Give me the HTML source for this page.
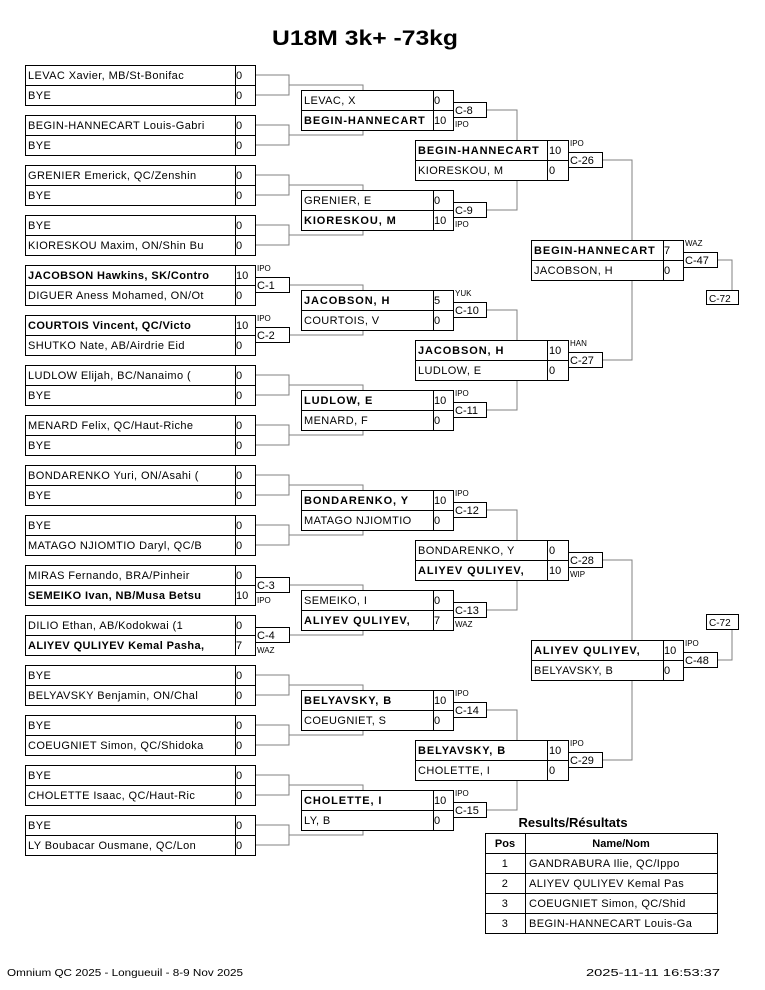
<!DOCTYPE html>
<html><head><meta charset="utf-8"><style>
html,body{margin:0;padding:0;background:#fff}
svg{display:block}
text{font-family:"Liberation Sans",Arial,sans-serif;fill:#000}
.n{font-size:11px;letter-spacing:0.4px}
.b{font-size:11px;font-weight:bold;letter-spacing:0.9px}
.s{font-size:11px}
.l{font-size:8px}
.c{stroke:#808080;fill:none;stroke-width:1}
.bx{stroke:#000;fill:none;stroke-width:1}
</style></head><body>
<svg width="765" height="990" viewBox="0 0 765 990" xmlns="http://www.w3.org/2000/svg">
<text x="365" y="45" text-anchor="middle" style="font-size:21px;font-weight:bold" textLength="186" lengthAdjust="spacingAndGlyphs">U18M 3k+ -73kg</text>

<g class="c">
<path d="M255 75H289V95H255M289 85H363V90"/>
<path d="M255 125H289V145H255M289 135H363V130"/>
<path d="M255 175H289V195H255M289 185H363V190"/>
<path d="M255 225H289V245H255M289 235H363V230"/>
<path d="M289 285H363V290"/>
<path d="M289 335H363V330"/>
<path d="M255 375H289V395H255M289 385H363V390"/>
<path d="M255 425H289V445H255M289 435H363V430"/>
<path d="M255 475H289V495H255M289 485H363V490"/>
<path d="M255 525H289V545H255M289 535H363V530"/>
<path d="M289 585H363V590"/>
<path d="M289 635H363V630"/>
<path d="M255 675H289V695H255M289 685H363V690"/>
<path d="M255 725H289V745H255M289 735H363V730"/>
<path d="M255 775H289V795H255M289 785H363V790"/>
<path d="M255 825H289V845H255M289 835H363V830"/>
<path d="M486 110H517V140"/><path d="M486 210H517V180"/>
<path d="M486 310H517V340"/><path d="M486 410H517V380"/>
<path d="M486 510H517V540"/><path d="M486 610H517V580"/>
<path d="M486 710H517V740"/><path d="M486 810H517V780"/>
<path d="M602 160H632V240"/><path d="M602 360H632V280"/>
<path d="M602 560H632V640"/><path d="M602 760H632V680"/>
<path d="M717 260H732V290"/><path d="M717 660H732V629"/>
</g>

<g class="bx">
<path d="M25.5 65.5h230v40h-230zM25.5 85.5h230M235.5 65.5v40"/>
<path d="M25.5 115.5h230v40h-230zM25.5 135.5h230M235.5 115.5v40"/>
<path d="M25.5 165.5h230v40h-230zM25.5 185.5h230M235.5 165.5v40"/>
<path d="M25.5 215.5h230v40h-230zM25.5 235.5h230M235.5 215.5v40"/>
<path d="M25.5 265.5h230v40h-230zM25.5 285.5h230M235.5 265.5v40"/>
<path d="M25.5 315.5h230v40h-230zM25.5 335.5h230M235.5 315.5v40"/>
<path d="M25.5 365.5h230v40h-230zM25.5 385.5h230M235.5 365.5v40"/>
<path d="M25.5 415.5h230v40h-230zM25.5 435.5h230M235.5 415.5v40"/>
<path d="M25.5 465.5h230v40h-230zM25.5 485.5h230M235.5 465.5v40"/>
<path d="M25.5 515.5h230v40h-230zM25.5 535.5h230M235.5 515.5v40"/>
<path d="M25.5 565.5h230v40h-230zM25.5 585.5h230M235.5 565.5v40"/>
<path d="M25.5 615.5h230v40h-230zM25.5 635.5h230M235.5 615.5v40"/>
<path d="M25.5 665.5h230v40h-230zM25.5 685.5h230M235.5 665.5v40"/>
<path d="M25.5 715.5h230v40h-230zM25.5 735.5h230M235.5 715.5v40"/>
<path d="M25.5 765.5h230v40h-230zM25.5 785.5h230M235.5 765.5v40"/>
<path d="M25.5 815.5h230v40h-230zM25.5 835.5h230M235.5 815.5v40"/>
<rect x="255.5" y="277.5" width="34" height="15"/>
<rect x="255.5" y="327.5" width="34" height="15"/>
<rect x="255.5" y="577.5" width="34" height="15"/>
<rect x="255.5" y="627.5" width="34" height="15"/>
<path d="M301.5 90.5h152v40h-152zM301.5 110.5h152M433.5 90.5v40"/>
<path d="M301.5 190.5h152v40h-152zM301.5 210.5h152M433.5 190.5v40"/>
<path d="M301.5 290.5h152v40h-152zM301.5 310.5h152M433.5 290.5v40"/>
<path d="M301.5 390.5h152v40h-152zM301.5 410.5h152M433.5 390.5v40"/>
<path d="M301.5 490.5h152v40h-152zM301.5 510.5h152M433.5 490.5v40"/>
<path d="M301.5 590.5h152v40h-152zM301.5 610.5h152M433.5 590.5v40"/>
<path d="M301.5 690.5h152v40h-152zM301.5 710.5h152M433.5 690.5v40"/>
<path d="M301.5 790.5h152v40h-152zM301.5 810.5h152M433.5 790.5v40"/>
<rect x="453.5" y="102.5" width="33" height="15"/>
<rect x="453.5" y="202.5" width="33" height="15"/>
<rect x="453.5" y="302.5" width="33" height="15"/>
<rect x="453.5" y="402.5" width="33" height="15"/>
<rect x="453.5" y="502.5" width="33" height="15"/>
<rect x="453.5" y="602.5" width="33" height="15"/>
<rect x="453.5" y="702.5" width="33" height="15"/>
<rect x="453.5" y="802.5" width="33" height="15"/>
<path d="M415.5 140.5h153v40h-153zM415.5 160.5h153M547.5 140.5v40"/>
<path d="M415.5 340.5h153v40h-153zM415.5 360.5h153M547.5 340.5v40"/>
<path d="M415.5 540.5h153v40h-153zM415.5 560.5h153M547.5 540.5v40"/>
<path d="M415.5 740.5h153v40h-153zM415.5 760.5h153M547.5 740.5v40"/>
<rect x="568.5" y="152.5" width="34" height="15"/>
<rect x="568.5" y="352.5" width="34" height="15"/>
<rect x="568.5" y="552.5" width="34" height="15"/>
<rect x="568.5" y="752.5" width="34" height="15"/>
<path d="M531.5 240.5h152v40h-152zM531.5 260.5h152M663.5 240.5v40"/>
<path d="M531.5 640.5h152v40h-152zM531.5 660.5h152M663.5 640.5v40"/>
<rect x="683.5" y="252.5" width="34" height="15"/>
<rect x="683.5" y="652.5" width="34" height="15"/>
<rect x="706.5" y="290.5" width="32" height="14"/>
<rect x="706.5" y="614.5" width="32" height="15"/>
<path d="M485.5 833.5h232v100h-232zM485.5 853.5h232M485.5 873.5h232M485.5 893.5h232M485.5 913.5h232M525.5 833.5v100"/>
</g>

<g class="n">
<text x="28" y="79">LEVAC Xavier, MB/St-Bonifac</text><text x="28" y="99">BYE</text>
<text x="28" y="129">BEGIN-HANNECART Louis-Gabri</text><text x="28" y="149">BYE</text>
<text x="28" y="179">GRENIER Emerick, QC/Zenshin</text><text x="28" y="199">BYE</text>
<text x="28" y="229">BYE</text><text x="28" y="249">KIORESKOU Maxim, ON/Shin Bu</text>
<text x="28" y="279" font-weight="bold">JACOBSON Hawkins, SK/Contro</text><text x="28" y="299">DIGUER Aness Mohamed, ON/Ot</text>
<text x="28" y="329" font-weight="bold">COURTOIS Vincent, QC/Victo</text><text x="28" y="349">SHUTKO Nate, AB/Airdrie Eid</text>
<text x="28" y="379">LUDLOW Elijah, BC/Nanaimo (</text><text x="28" y="399">BYE</text>
<text x="28" y="429">MENARD Felix, QC/Haut-Riche</text><text x="28" y="449">BYE</text>
<text x="28" y="479">BONDARENKO Yuri, ON/Asahi (</text><text x="28" y="499">BYE</text>
<text x="28" y="529">BYE</text><text x="28" y="549">MATAGO NJIOMTIO Daryl, QC/B</text>
<text x="28" y="579">MIRAS Fernando, BRA/Pinheir</text><text x="28" y="599" font-weight="bold">SEMEIKO Ivan, NB/Musa Betsu</text>
<text x="28" y="629">DILIO Ethan, AB/Kodokwai (1</text><text x="28" y="649" font-weight="bold">ALIYEV QULIYEV Kemal Pasha,</text>
<text x="28" y="679">BYE</text><text x="28" y="699">BELYAVSKY Benjamin, ON/Chal</text>
<text x="28" y="729">BYE</text><text x="28" y="749">COEUGNIET Simon, QC/Shidoka</text>
<text x="28" y="779">BYE</text><text x="28" y="799">CHOLETTE Isaac, QC/Haut-Ric</text>
<text x="28" y="829">BYE</text><text x="28" y="849">LY Boubacar Ousmane, QC/Lon</text>
</g>
<g class="s">
<text x="236" y="79">0</text><text x="236" y="99">0</text>
<text x="236" y="129">0</text><text x="236" y="149">0</text>
<text x="236" y="179">0</text><text x="236" y="199">0</text>
<text x="236" y="229">0</text><text x="236" y="249">0</text>
<text x="236" y="279">10</text><text x="236" y="299">0</text>
<text x="236" y="329">10</text><text x="236" y="349">0</text>
<text x="236" y="379">0</text><text x="236" y="399">0</text>
<text x="236" y="429">0</text><text x="236" y="449">0</text>
<text x="236" y="479">0</text><text x="236" y="499">0</text>
<text x="236" y="529">0</text><text x="236" y="549">0</text>
<text x="236" y="579">0</text><text x="236" y="599">10</text>
<text x="236" y="629">0</text><text x="236" y="649">7</text>
<text x="236" y="679">0</text><text x="236" y="699">0</text>
<text x="236" y="729">0</text><text x="236" y="749">0</text>
<text x="236" y="779">0</text><text x="236" y="799">0</text>
<text x="236" y="829">0</text><text x="236" y="849">0</text>
<text x="257" y="289">C-1</text><text x="257" y="339">C-2</text>
<text x="257" y="589">C-3</text><text x="257" y="639">C-4</text>
<text x="434" y="104">0</text><text x="434" y="124">10</text>
<text x="434" y="204">0</text><text x="434" y="224">10</text>
<text x="434" y="304">5</text><text x="434" y="324">0</text>
<text x="434" y="404">10</text><text x="434" y="424">0</text>
<text x="434" y="504">10</text><text x="434" y="524">0</text>
<text x="434" y="604">0</text><text x="434" y="624">7</text>
<text x="434" y="704">10</text><text x="434" y="724">0</text>
<text x="434" y="804">10</text><text x="434" y="824">0</text>
<text x="455" y="114">C-8</text><text x="455" y="214">C-9</text>
<text x="455" y="314">C-10</text><text x="455" y="414">C-11</text>
<text x="455" y="514">C-12</text><text x="455" y="614">C-13</text>
<text x="455" y="714">C-14</text><text x="455" y="814">C-15</text>
<text x="549" y="154">10</text><text x="549" y="174">0</text>
<text x="549" y="354">10</text><text x="549" y="374">0</text>
<text x="549" y="554">0</text><text x="549" y="574">10</text>
<text x="549" y="754">10</text><text x="549" y="774">0</text>
<text x="570" y="164">C-26</text><text x="570" y="364">C-27</text>
<text x="570" y="564">C-28</text><text x="570" y="764">C-29</text>
<text x="664" y="254">7</text><text x="664" y="274">0</text>
<text x="664" y="654">10</text><text x="664" y="674">0</text>
<text x="685" y="264">C-47</text><text x="685" y="664">C-48</text>
<text x="709" y="302" style="font-size:10px">C-72</text><text x="709" y="626" style="font-size:10px">C-72</text>
</g>
<g class="l">
<text x="257" y="271">IPO</text><text x="257" y="321">IPO</text>
<text x="257" y="603">IPO</text><text x="257" y="653">WAZ</text>
<text x="455" y="127">IPO</text><text x="455" y="227">IPO</text>
<text x="455" y="296">YUK</text><text x="455" y="396">IPO</text>
<text x="455" y="496">IPO</text><text x="455" y="627">WAZ</text>
<text x="455" y="696">IPO</text><text x="455" y="796">IPO</text>
<text x="570" y="146">IPO</text><text x="570" y="346">HAN</text>
<text x="570" y="577">WIP</text><text x="570" y="746">IPO</text>
<text x="685" y="246">WAZ</text><text x="685" y="646">IPO</text>
</g>
<text class="n" x="304" y="104">LEVAC, X</text><text class="b" x="304" y="124">BEGIN-HANNECART</text>
<text class="n" x="304" y="204">GRENIER, E</text><text class="b" x="304" y="224">KIORESKOU, M</text>
<text class="b" x="304" y="304">JACOBSON, H</text><text class="n" x="304" y="324">COURTOIS, V</text>
<text class="b" x="304" y="404">LUDLOW, E</text><text class="n" x="304" y="424">MENARD, F</text>
<text class="b" x="304" y="504">BONDARENKO, Y</text><text class="n" x="304" y="524">MATAGO NJIOMTIO</text>
<text class="n" x="304" y="604">SEMEIKO, I</text><text class="b" x="304" y="624">ALIYEV QULIYEV,</text>
<text class="b" x="304" y="704">BELYAVSKY, B</text><text class="n" x="304" y="724">COEUGNIET, S</text>
<text class="b" x="304" y="804">CHOLETTE, I</text><text class="n" x="304" y="824">LY, B</text>
<text class="b" x="418" y="154">BEGIN-HANNECART</text><text class="n" x="418" y="174">KIORESKOU, M</text>
<text class="b" x="418" y="354">JACOBSON, H</text><text class="n" x="418" y="374">LUDLOW, E</text>
<text class="n" x="418" y="554">BONDARENKO, Y</text><text class="b" x="418" y="574">ALIYEV QULIYEV,</text>
<text class="b" x="418" y="754">BELYAVSKY, B</text><text class="n" x="418" y="774">CHOLETTE, I</text>
<text class="b" x="534" y="254">BEGIN-HANNECART</text><text class="n" x="534" y="274">JACOBSON, H</text>
<text class="b" x="534" y="654">ALIYEV QULIYEV,</text><text class="n" x="534" y="674">BELYAVSKY, B</text>

<text x="573" y="827" text-anchor="middle" style="font-size:13px;font-weight:bold">Results/Résultats</text>
<text x="505" y="847" text-anchor="middle" style="font-size:11px;font-weight:bold">Pos</text>
<text x="621" y="847" text-anchor="middle" style="font-size:11px;font-weight:bold">Name/Nom</text>
<g class="n">
<text x="505" y="867" text-anchor="middle">1</text><text x="529" y="867">GANDRABURA Ilie, QC/Ippo</text>
<text x="505" y="887" text-anchor="middle">2</text><text x="529" y="887">ALIYEV QULIYEV Kemal Pas</text>
<text x="505" y="907" text-anchor="middle">3</text><text x="529" y="907">COEUGNIET Simon, QC/Shid</text>
<text x="505" y="927" text-anchor="middle">3</text><text x="529" y="927">BEGIN-HANNECART Louis-Ga</text>
</g>

<text x="7" y="976" style="font-size:10px" textLength="236" lengthAdjust="spacingAndGlyphs">Omnium QC 2025 - Longueuil - 8-9 Nov 2025</text>
<text x="586" y="976" style="font-size:10px" textLength="134" lengthAdjust="spacingAndGlyphs">2025-11-11 16:53:37</text>
</svg>
</body></html>
